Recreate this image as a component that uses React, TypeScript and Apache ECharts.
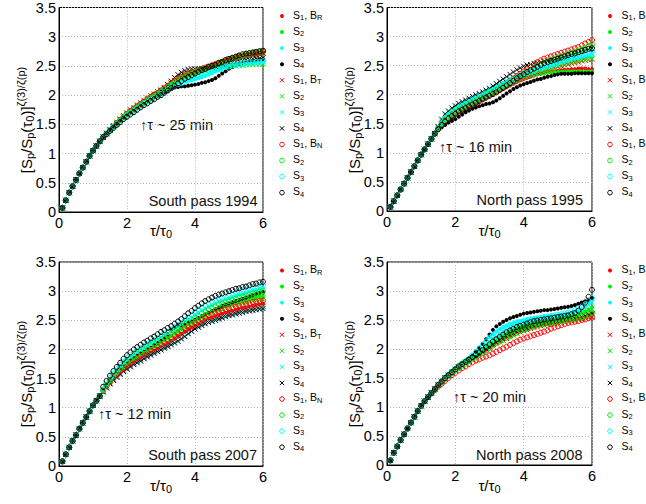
import React, { useEffect, useRef } from "react";
import * as echarts from "echarts";

const FONT = '"Liberation Sans", Arial, Helvetica, sans-serif';

// tau / tau0 sample points
const TAU = [
  0.1, 0.2, 0.3, 0.4, 0.5, 0.6, 0.7, 0.8, 0.9, 1.0, 1.1, 1.2,
  1.3, 1.4, 1.5, 1.6, 1.7, 1.8, 1.9, 2.0, 2.1, 2.2, 2.3, 2.4,
  2.5, 2.6, 2.7, 2.8, 2.9, 3.0, 3.1, 3.2, 3.3, 3.4, 3.5, 3.6,
  3.7, 3.8, 3.9, 4.0, 4.1, 4.2, 4.3, 4.4, 4.5, 4.6, 4.7, 4.8,
  4.9, 5.0, 5.1, 5.2, 5.3, 5.4, 5.5, 5.6, 5.7, 5.8, 5.9, 6.0,
];

const X_TICKS = [0, 2, 4, 6];
const Y_MAX = 3.5;
const Y_STEP = 0.5;

// ---------- South pass 1994 ----------
const SP94_HEAD = [0.07, 0.2, 0.33, 0.44, 0.55, 0.66, 0.76, 0.86, 0.96, 1.05, 1.13, 1.21];
const SP94_BR_S1 = [1.28,1.35,1.41,1.47,1.53,1.59,1.64,1.69,1.74,1.78,1.82,1.86, 1.90,1.94,1.98,2.02,2.05,2.08,2.12,2.17,2.21,2.25,2.29,2.32, 2.35,2.38,2.40,2.42,2.44,2.46,2.48,2.50,2.52,2.54,2.56,2.58, 2.60,2.62,2.63,2.65,2.66,2.67,2.68,2.69,2.70,2.71,2.72,2.73];
const SP94_BR_S2 = [1.28,1.34,1.40,1.46,1.52,1.58,1.63,1.68,1.73,1.77,1.81,1.85, 1.89,1.93,1.97,2.00,2.04,2.07,2.11,2.15,2.19,2.23,2.27,2.30, 2.33,2.36,2.38,2.40,2.42,2.44,2.46,2.48,2.50,2.52,2.54,2.56, 2.58,2.60,2.61,2.63,2.64,2.65,2.66,2.67,2.68,2.69,2.70,2.70];
const SP94_BR_S3 = [1.28,1.34,1.40,1.46,1.51,1.57,1.62,1.67,1.71,1.75,1.79,1.83, 1.87,1.91,1.94,1.98,2.01,2.04,2.08,2.11,2.15,2.18,2.21,2.23, 2.24,2.25,2.26,2.27,2.29,2.31,2.33,2.36,2.38,2.41,2.43,2.46, 2.48,2.50,2.51,2.52,2.53,2.54,2.55,2.55,2.56,2.57,2.57,2.58];
const SP94_BR_S4 = [1.28,1.34,1.40,1.46,1.51,1.56,1.61,1.66,1.70,1.74,1.78,1.82, 1.86,1.89,1.93,1.96,1.99,2.02,2.05,2.08,2.11,2.13,2.14,2.15, 2.15,2.16,2.17,2.18,2.19,2.21,2.22,2.24,2.26,2.29,2.33,2.37, 2.41,2.45,2.48,2.51,2.53,2.55,2.57,2.58,2.59,2.60,2.61,2.62];
const SP94_BT_S1 = [1.29,1.35,1.41,1.48,1.54,1.59,1.65,1.70,1.75,1.79,1.83,1.87, 1.91,1.95,1.99,2.02,2.06,2.09,2.13,2.17,2.21,2.25,2.29,2.32, 2.35,2.37,2.39,2.41,2.43,2.45,2.47,2.49,2.51,2.53,2.55,2.58, 2.60,2.62,2.63,2.64,2.65,2.66,2.67,2.68,2.69,2.70,2.71,2.72];
const SP94_BT_S2 = [1.28,1.35,1.41,1.47,1.53,1.58,1.63,1.68,1.73,1.77,1.81,1.85, 1.89,1.93,1.96,2.00,2.03,2.07,2.11,2.15,2.19,2.22,2.25,2.28, 2.31,2.33,2.35,2.37,2.39,2.41,2.42,2.44,2.45,2.46,2.47,2.48, 2.49,2.49,2.50,2.50,2.51,2.51,2.52,2.52,2.52,2.53,2.53,2.53];
const SP94_BT_S3 = [1.28,1.34,1.40,1.46,1.52,1.57,1.62,1.67,1.72,1.76,1.80,1.84, 1.88,1.92,1.95,1.99,2.02,2.06,2.10,2.14,2.18,2.21,2.24,2.26, 2.28,2.30,2.32,2.34,2.36,2.38,2.40,2.42,2.44,2.46,2.48,2.50, 2.51,2.52,2.53,2.53,2.54,2.54,2.55,2.55,2.55,2.56,2.56,2.56];
const SP94_BT_S4 = [1.28,1.34,1.40,1.46,1.51,1.57,1.62,1.67,1.71,1.75,1.79,1.83, 1.87,1.91,1.95,1.99,2.03,2.07,2.12,2.18,2.24,2.30,2.35,2.39, 2.42,2.44,2.45,2.45,2.45,2.45,2.46,2.47,2.48,2.49,2.50,2.52, 2.53,2.55,2.56,2.57,2.58,2.59,2.60,2.61,2.62,2.63,2.63,2.64];
const SP94_BN_S1 = [1.28,1.34,1.40,1.46,1.52,1.58,1.63,1.68,1.73,1.77,1.81,1.85, 1.89,1.93,1.97,2.01,2.04,2.08,2.12,2.16,2.20,2.24,2.28,2.31, 2.34,2.37,2.39,2.41,2.43,2.45,2.47,2.49,2.51,2.53,2.55,2.57, 2.59,2.61,2.63,2.64,2.66,2.67,2.68,2.69,2.71,2.72,2.73,2.74];
const SP94_BN_S2 = [1.28,1.34,1.40,1.46,1.51,1.57,1.62,1.67,1.71,1.75,1.79,1.83, 1.87,1.91,1.95,1.98,2.02,2.06,2.10,2.14,2.18,2.22,2.26,2.29, 2.32,2.35,2.37,2.40,2.42,2.44,2.46,2.48,2.50,2.53,2.55,2.57, 2.59,2.61,2.63,2.65,2.67,2.68,2.70,2.71,2.73,2.74,2.75,2.76];
const SP94_BN_S3 = [1.28,1.34,1.40,1.45,1.50,1.55,1.60,1.65,1.69,1.73,1.77,1.81, 1.85,1.88,1.92,1.95,1.98,2.02,2.05,2.09,2.12,2.16,2.19,2.21, 2.23,2.25,2.27,2.29,2.31,2.33,2.35,2.37,2.40,2.42,2.44,2.46, 2.48,2.49,2.51,2.52,2.53,2.54,2.55,2.56,2.56,2.57,2.57,2.58];
const SP94_BN_S4 = [1.28,1.33,1.39,1.44,1.49,1.54,1.59,1.63,1.67,1.71,1.75,1.79, 1.83,1.86,1.90,1.93,1.97,2.00,2.04,2.08,2.12,2.16,2.20,2.24, 2.28,2.31,2.34,2.37,2.40,2.43,2.45,2.48,2.50,2.52,2.55,2.57, 2.60,2.62,2.64,2.66,2.68,2.70,2.71,2.72,2.73,2.74,2.75,2.76];

// ---------- North pass 1995 ----------
const NP95_HEAD = [0.07, 0.17, 0.27, 0.37, 0.47, 0.57, 0.67, 0.77, 0.87, 0.97, 1.06, 1.15];
const NP95_BR_S1 = [1.24,1.33,1.41,1.48,1.54,1.59,1.63,1.67,1.71,1.74,1.77,1.80, 1.83,1.86,1.89,1.92,1.95,1.98,2.01,2.04,2.07,2.10,2.13,2.16, 2.19,2.22,2.25,2.27,2.29,2.31,2.33,2.35,2.36,2.37,2.38,2.39, 2.40,2.41,2.42,2.43,2.43,2.44,2.44,2.45,2.45,2.45,2.44,2.44];
const NP95_BR_S2 = [1.24,1.33,1.41,1.49,1.55,1.60,1.65,1.69,1.73,1.76,1.79,1.82, 1.85,1.88,1.91,1.94,1.97,2.00,2.03,2.06,2.09,2.12,2.15,2.18, 2.21,2.24,2.27,2.29,2.31,2.33,2.34,2.35,2.36,2.37,2.38,2.38, 2.39,2.39,2.39,2.40,2.40,2.40,2.40,2.40,2.40,2.40,2.40,2.40];
const NP95_BR_S3 = [1.24,1.33,1.43,1.53,1.62,1.68,1.73,1.77,1.81,1.84,1.87,1.90, 1.93,1.96,1.99,2.02,2.05,2.08,2.11,2.14,2.17,2.20,2.23,2.26, 2.29,2.31,2.34,2.36,2.38,2.40,2.42,2.44,2.46,2.48,2.50,2.51, 2.53,2.54,2.56,2.57,2.59,2.60,2.61,2.63,2.64,2.65,2.66,2.67];
const NP95_BR_S4 = [1.24,1.32,1.39,1.44,1.48,1.52,1.55,1.58,1.62,1.66,1.70,1.73, 1.76,1.78,1.80,1.82,1.84,1.85,1.87,1.90,1.94,1.98,2.02,2.06, 2.10,2.13,2.16,2.18,2.20,2.22,2.24,2.26,2.27,2.29,2.31,2.32, 2.34,2.35,2.36,2.36,2.36,2.36,2.37,2.37,2.37,2.37,2.37,2.37];
const NP95_BT_S1 = [1.24,1.33,1.42,1.50,1.57,1.62,1.66,1.70,1.74,1.77,1.80,1.83, 1.86,1.89,1.92,1.95,1.98,2.01,2.04,2.07,2.10,2.13,2.16,2.19, 2.22,2.25,2.27,2.30,2.32,2.34,2.36,2.38,2.40,2.42,2.43,2.45, 2.46,2.48,2.49,2.51,2.52,2.54,2.55,2.56,2.58,2.59,2.60,2.61];
const NP95_BT_S2 = [1.24,1.33,1.42,1.50,1.57,1.63,1.68,1.72,1.76,1.79,1.82,1.85, 1.88,1.91,1.94,1.97,2.00,2.03,2.06,2.09,2.12,2.15,2.18,2.21, 2.24,2.27,2.29,2.32,2.34,2.36,2.38,2.40,2.42,2.43,2.45,2.46, 2.48,2.49,2.51,2.52,2.54,2.55,2.57,2.58,2.59,2.60,2.61,2.62];
const NP95_BT_S3 = [1.24,1.33,1.44,1.55,1.64,1.70,1.74,1.78,1.82,1.85,1.88,1.91, 1.94,1.97,2.00,2.03,2.06,2.09,2.12,2.15,2.18,2.21,2.24,2.27, 2.30,2.33,2.36,2.38,2.40,2.42,2.44,2.46,2.48,2.50,2.52,2.54, 2.56,2.57,2.59,2.60,2.62,2.63,2.65,2.66,2.68,2.69,2.70,2.71];
const NP95_BT_S4 = [1.24,1.33,1.45,1.58,1.67,1.72,1.77,1.81,1.85,1.88,1.91,1.94, 1.97,2.00,2.02,2.05,2.08,2.11,2.15,2.19,2.23,2.27,2.31,2.35, 2.39,2.43,2.46,2.49,2.51,2.52,2.54,2.55,2.56,2.57,2.58,2.59, 2.60,2.62,2.63,2.65,2.66,2.68,2.70,2.72,2.74,2.76,2.78,2.80];
const NP95_BN_S1 = [1.24,1.33,1.41,1.49,1.55,1.60,1.64,1.68,1.72,1.75,1.79,1.82, 1.85,1.88,1.91,1.94,1.97,2.00,2.04,2.08,2.12,2.16,2.20,2.24, 2.28,2.32,2.36,2.40,2.44,2.48,2.52,2.56,2.59,2.62,2.64,2.66, 2.68,2.70,2.72,2.74,2.76,2.78,2.80,2.82,2.85,2.88,2.91,2.94];
const NP95_BN_S2 = [1.24,1.33,1.42,1.50,1.57,1.62,1.67,1.71,1.75,1.78,1.81,1.84, 1.87,1.90,1.93,1.96,1.99,2.02,2.05,2.08,2.12,2.15,2.19,2.22, 2.26,2.29,2.33,2.36,2.40,2.43,2.46,2.49,2.52,2.55,2.58,2.60, 2.62,2.64,2.66,2.68,2.70,2.72,2.74,2.76,2.78,2.81,2.84,2.87];
const NP95_BN_S3 = [1.24,1.33,1.42,1.51,1.59,1.65,1.70,1.74,1.78,1.81,1.84,1.87, 1.90,1.93,1.96,1.99,2.02,2.05,2.08,2.11,2.14,2.17,2.20,2.23, 2.26,2.29,2.32,2.34,2.37,2.39,2.41,2.43,2.45,2.47,2.49,2.51, 2.53,2.55,2.57,2.59,2.61,2.63,2.65,2.67,2.69,2.71,2.72,2.74];
const NP95_BN_S4 = [1.24,1.33,1.41,1.48,1.54,1.59,1.63,1.67,1.71,1.74,1.77,1.80, 1.83,1.86,1.89,1.92,1.95,1.98,2.01,2.04,2.08,2.12,2.16,2.20, 2.24,2.28,2.32,2.35,2.39,2.42,2.45,2.48,2.51,2.54,2.56,2.58, 2.60,2.62,2.64,2.66,2.68,2.70,2.71,2.73,2.75,2.77,2.79,2.80];

// ---------- South pass 2007 ----------
const SP07_HEAD = [0.08, 0.2, 0.32, 0.43, 0.53, 0.64, 0.74, 0.84, 0.94, 1.04, 1.12, 1.2];
const SP07_BR_S1 = [1.28,1.36,1.43,1.49,1.55,1.61,1.66,1.70,1.74,1.78,1.82,1.85, 1.89,1.92,1.95,1.98,2.01,2.04,2.08,2.11,2.15,2.19,2.23,2.27, 2.31,2.35,2.38,2.41,2.44,2.47,2.50,2.53,2.55,2.57,2.59,2.61, 2.63,2.65,2.66,2.68,2.69,2.71,2.72,2.73,2.75,2.76,2.77,2.78];
const SP07_BR_S2 = [1.29,1.38,1.46,1.53,1.59,1.65,1.70,1.75,1.80,1.84,1.88,1.92, 1.95,1.99,2.02,2.06,2.09,2.13,2.16,2.20,2.24,2.28,2.32,2.36, 2.40,2.44,2.47,2.51,2.54,2.57,2.60,2.63,2.66,2.68,2.71,2.73, 2.75,2.77,2.79,2.81,2.82,2.84,2.85,2.87,2.88,2.89,2.91,2.92];
const SP07_BR_S3 = [1.30,1.40,1.49,1.57,1.64,1.71,1.77,1.82,1.87,1.91,1.95,1.99, 2.03,2.06,2.10,2.13,2.17,2.20,2.24,2.27,2.31,2.35,2.39,2.43, 2.47,2.51,2.55,2.59,2.63,2.67,2.70,2.73,2.76,2.79,2.82,2.84, 2.86,2.88,2.90,2.92,2.94,2.95,2.97,2.99,3.01,3.02,3.04,3.05];
const SP07_BR_S4 = [1.29,1.38,1.46,1.53,1.60,1.66,1.71,1.76,1.81,1.85,1.89,1.93, 1.96,2.00,2.03,2.07,2.11,2.15,2.20,2.26,2.32,2.37,2.40,2.42, 2.44,2.46,2.48,2.51,2.54,2.57,2.60,2.63,2.66,2.69,2.72,2.75, 2.77,2.79,2.81,2.83,2.85,2.87,2.89,2.91,2.93,2.95,2.97,2.98];
const SP07_BT_S1 = [1.28,1.35,1.42,1.48,1.54,1.59,1.64,1.68,1.72,1.76,1.80,1.83, 1.86,1.90,1.93,1.96,1.99,2.02,2.05,2.08,2.12,2.16,2.20,2.24, 2.28,2.32,2.36,2.39,2.42,2.45,2.48,2.50,2.52,2.54,2.56,2.58, 2.60,2.61,2.63,2.64,2.66,2.67,2.68,2.70,2.71,2.72,2.73,2.74];
const SP07_BT_S2 = [1.29,1.37,1.45,1.52,1.58,1.64,1.69,1.74,1.78,1.82,1.86,1.90, 1.93,1.97,2.00,2.03,2.07,2.10,2.14,2.17,2.21,2.25,2.29,2.33, 2.37,2.41,2.44,2.47,2.50,2.53,2.56,2.59,2.62,2.64,2.66,2.68, 2.70,2.72,2.74,2.76,2.77,2.79,2.80,2.82,2.83,2.84,2.85,2.86];
const SP07_BT_S3 = [1.27,1.34,1.41,1.47,1.53,1.58,1.63,1.67,1.71,1.75,1.78,1.81, 1.85,1.88,1.91,1.94,1.97,2.00,2.03,2.06,2.09,2.12,2.15,2.19, 2.23,2.27,2.31,2.35,2.39,2.42,2.45,2.47,2.49,2.51,2.53,2.55, 2.57,2.59,2.60,2.62,2.63,2.65,2.66,2.67,2.68,2.69,2.71,2.72];
const SP07_BT_S4 = [1.27,1.34,1.41,1.47,1.52,1.57,1.62,1.66,1.70,1.74,1.77,1.80, 1.84,1.87,1.90,1.93,1.96,1.99,2.02,2.05,2.08,2.11,2.14,2.18, 2.22,2.27,2.31,2.35,2.38,2.41,2.44,2.46,2.48,2.50,2.52,2.54, 2.56,2.58,2.59,2.61,2.62,2.63,2.65,2.66,2.67,2.68,2.69,2.70];
const SP07_BN_S1 = [1.29,1.37,1.44,1.51,1.57,1.63,1.68,1.72,1.77,1.81,1.85,1.88, 1.92,1.95,1.99,2.02,2.05,2.09,2.12,2.16,2.20,2.24,2.28,2.32, 2.36,2.40,2.43,2.46,2.49,2.52,2.55,2.58,2.60,2.62,2.64,2.66, 2.68,2.70,2.72,2.73,2.75,2.76,2.78,2.79,2.81,2.82,2.83,2.84];
const SP07_BN_S2 = [1.30,1.39,1.47,1.55,1.62,1.68,1.74,1.79,1.84,1.88,1.92,1.96, 2.00,2.03,2.07,2.10,2.14,2.17,2.21,2.24,2.28,2.32,2.36,2.40, 2.44,2.48,2.51,2.55,2.58,2.62,2.65,2.68,2.71,2.74,2.77,2.79, 2.81,2.83,2.85,2.87,2.89,2.91,2.93,2.94,2.96,2.97,2.99,3.00];
const SP07_BN_S3 = [1.32,1.42,1.51,1.59,1.66,1.73,1.79,1.85,1.90,1.94,1.98,2.02, 2.06,2.09,2.13,2.16,2.20,2.23,2.27,2.30,2.34,2.38,2.42,2.46, 2.50,2.55,2.59,2.64,2.68,2.72,2.76,2.79,2.82,2.85,2.87,2.89, 2.91,2.93,2.95,2.97,2.99,3.01,3.02,3.04,3.06,3.07,3.09,3.10];
const SP07_BN_S4 = [1.36,1.46,1.55,1.63,1.70,1.77,1.84,1.90,1.95,2.00,2.04,2.08, 2.12,2.15,2.19,2.22,2.26,2.30,2.33,2.37,2.40,2.44,2.48,2.52, 2.57,2.62,2.66,2.71,2.75,2.79,2.83,2.86,2.89,2.92,2.94,2.96, 2.98,3.00,3.02,3.04,3.05,3.07,3.08,3.10,3.12,3.13,3.15,3.16];

// ---------- North pass 2008 ----------
const NP08_HEAD = [0.08, 0.21, 0.32, 0.43, 0.53, 0.63, 0.73, 0.83, 0.93, 1.02, 1.1, 1.17];
const NP08_BR_S1 = [1.24,1.31,1.37,1.43,1.49,1.54,1.59,1.64,1.68,1.72,1.76,1.80, 1.84,1.88,1.92,1.96,2.00,2.04,2.08,2.12,2.16,2.20,2.23,2.26, 2.29,2.31,2.33,2.35,2.37,2.39,2.40,2.41,2.42,2.43,2.44,2.45, 2.46,2.47,2.48,2.49,2.50,2.51,2.52,2.53,2.54,2.56,2.58,2.60];
const NP08_BR_S2 = [1.24,1.31,1.38,1.44,1.50,1.55,1.60,1.65,1.69,1.73,1.77,1.81, 1.85,1.89,1.93,1.98,2.03,2.08,2.13,2.17,2.21,2.25,2.28,2.31, 2.34,2.36,2.38,2.40,2.42,2.43,2.45,2.46,2.47,2.48,2.49,2.50, 2.51,2.52,2.53,2.54,2.55,2.56,2.58,2.60,2.62,2.65,2.68,2.72];
const NP08_BR_S3 = [1.24,1.31,1.38,1.45,1.51,1.56,1.61,1.66,1.71,1.75,1.79,1.83, 1.90,1.96,2.02,2.08,2.14,2.20,2.25,2.30,2.34,2.37,2.40,2.43, 2.45,2.47,2.48,2.49,2.51,2.52,2.53,2.54,2.55,2.56,2.57,2.57, 2.57,2.58,2.59,2.60,2.61,2.62,2.64,2.66,2.69,2.73,2.78,2.84];
const NP08_BR_S4 = [1.24,1.31,1.38,1.45,1.51,1.56,1.61,1.66,1.70,1.74,1.78,1.83, 1.88,1.95,2.02,2.09,2.17,2.25,2.33,2.39,2.43,2.47,2.50,2.53, 2.55,2.57,2.59,2.61,2.62,2.63,2.64,2.65,2.66,2.67,2.67,2.68, 2.69,2.70,2.71,2.72,2.73,2.74,2.76,2.78,2.80,2.82,2.85,2.88];
const NP08_BT_S1 = [1.25,1.32,1.38,1.44,1.49,1.54,1.59,1.63,1.67,1.71,1.75,1.79, 1.83,1.86,1.90,1.94,1.97,2.01,2.05,2.09,2.12,2.15,2.18,2.21, 2.24,2.27,2.29,2.31,2.33,2.35,2.37,2.38,2.40,2.41,2.42,2.43, 2.44,2.45,2.46,2.47,2.48,2.49,2.50,2.51,2.52,2.53,2.54,2.55];
const NP08_BT_S2 = [1.24,1.31,1.37,1.43,1.49,1.54,1.59,1.64,1.68,1.72,1.76,1.80, 1.84,1.88,1.92,1.96,2.00,2.04,2.08,2.12,2.16,2.19,2.22,2.25, 2.28,2.31,2.33,2.35,2.37,2.39,2.41,2.43,2.44,2.45,2.46,2.48, 2.49,2.50,2.52,2.53,2.54,2.56,2.57,2.59,2.61,2.63,2.66,2.69];
const NP08_BT_S3 = [1.24,1.31,1.38,1.44,1.50,1.55,1.60,1.65,1.70,1.74,1.78,1.82, 1.86,1.90,1.94,1.99,2.04,2.09,2.14,2.18,2.22,2.26,2.30,2.34, 2.37,2.40,2.42,2.44,2.46,2.48,2.49,2.50,2.51,2.52,2.53,2.54, 2.55,2.56,2.57,2.58,2.60,2.62,2.64,2.66,2.69,2.72,2.76,2.80];
const NP08_BT_S4 = [1.24,1.31,1.38,1.44,1.50,1.55,1.60,1.65,1.69,1.73,1.77,1.81, 1.85,1.88,1.92,1.96,2.00,2.04,2.08,2.12,2.15,2.18,2.21,2.24, 2.27,2.30,2.32,2.34,2.36,2.38,2.40,2.42,2.43,2.44,2.45,2.46, 2.47,2.48,2.49,2.50,2.51,2.52,2.53,2.54,2.55,2.57,2.59,2.61];
const NP08_BN_S1 = [1.23,1.29,1.35,1.40,1.45,1.50,1.55,1.59,1.63,1.67,1.70,1.74, 1.77,1.80,1.82,1.85,1.87,1.89,1.92,1.95,1.98,2.01,2.04,2.07, 2.10,2.13,2.16,2.18,2.20,2.22,2.24,2.26,2.28,2.30,2.32,2.35, 2.37,2.39,2.41,2.43,2.45,2.46,2.47,2.48,2.50,2.51,2.53,2.54];
const NP08_BN_S2 = [1.24,1.31,1.37,1.43,1.48,1.53,1.58,1.63,1.67,1.71,1.75,1.79, 1.83,1.87,1.90,1.94,1.98,2.02,2.06,2.10,2.13,2.16,2.19,2.22, 2.25,2.28,2.31,2.33,2.35,2.37,2.39,2.41,2.42,2.43,2.44,2.45, 2.46,2.47,2.48,2.49,2.50,2.51,2.52,2.54,2.55,2.57,2.59,2.62];
const NP08_BN_S3 = [1.24,1.31,1.38,1.45,1.51,1.56,1.61,1.66,1.70,1.75,1.79,1.83, 1.89,1.95,2.01,2.07,2.13,2.19,2.24,2.28,2.32,2.36,2.39,2.42, 2.44,2.46,2.47,2.49,2.50,2.51,2.52,2.53,2.54,2.55,2.56,2.57, 2.58,2.59,2.60,2.61,2.63,2.65,2.67,2.70,2.73,2.77,2.82,2.88];
const NP08_BN_S4 = [1.24,1.31,1.38,1.44,1.50,1.55,1.60,1.65,1.70,1.74,1.78,1.82, 1.86,1.90,1.94,1.98,2.03,2.08,2.13,2.17,2.21,2.25,2.29,2.32, 2.35,2.38,2.40,2.42,2.44,2.46,2.48,2.49,2.50,2.51,2.52,2.53, 2.54,2.55,2.56,2.57,2.58,2.60,2.62,2.66,2.72,2.80,2.90,3.02];

const PANEL_TITLES = ["South pass 1994", "North pass 1995", "South pass 2007", "North pass 2008"];
const PANEL_NOTES = ["↑τ ~ 25 min", "↑τ ~ 16 min", "↑τ ~ 12 min", "↑τ ~ 20 min"];
const PANEL_HEADS = [SP94_HEAD, NP95_HEAD, SP07_HEAD, NP08_HEAD];
const PANEL_TAILS = [
  [SP94_BR_S1, SP94_BR_S2, SP94_BR_S3, SP94_BR_S4, SP94_BT_S1, SP94_BT_S2, SP94_BT_S3, SP94_BT_S4, SP94_BN_S1, SP94_BN_S2, SP94_BN_S3, SP94_BN_S4],
  [NP95_BR_S1, NP95_BR_S2, NP95_BR_S3, NP95_BR_S4, NP95_BT_S1, NP95_BT_S2, NP95_BT_S3, NP95_BT_S4, NP95_BN_S1, NP95_BN_S2, NP95_BN_S3, NP95_BN_S4],
  [SP07_BR_S1, SP07_BR_S2, SP07_BR_S3, SP07_BR_S4, SP07_BT_S1, SP07_BT_S2, SP07_BT_S3, SP07_BT_S4, SP07_BN_S1, SP07_BN_S2, SP07_BN_S3, SP07_BN_S4],
  [NP08_BR_S1, NP08_BR_S2, NP08_BR_S3, NP08_BR_S4, NP08_BT_S1, NP08_BT_S2, NP08_BT_S3, NP08_BT_S4, NP08_BN_S1, NP08_BN_S2, NP08_BN_S3, NP08_BN_S4],
];

// legend entries: [S index, B component]
const LEGEND_ITEMS: [string, string][] = [
  ["1", "R"], ["2", ""], ["3", ""], ["4", ""],
  ["1", "T"], ["2", ""], ["3", ""], ["4", ""],
  ["1", "N"], ["2", ""], ["3", ""], ["4", ""],
];

// ---- styles and layout ----
const COLORS = ["#ff0000", "#00ee00", "#00ffff", "#000000"];
const MARKERS = ["dot", "x", "o"];

const GRIDS = [
  { left: 59, top: 7, width: 204, height: 205 },
  { left: 387, top: 7, width: 205, height: 204 },
  { left: 59, top: 262, width: 204, height: 204 },
  { left: 387, top: 262, width: 205, height: 203 },
];
const LEG_MARK_X = [282, 610, 282, 610];
const LEG_TEXT_X = [293, 621.5, 293, 621.5];
const LEG_TOP = [16, 16, 270.5, 270.5];
const LEG_STEP = 16.06;
const YLAB_POS = [[26, 120], [354, 120], [26, 374], [354, 374]];
const XLAB_POS = [[161, 230], [489.5, 230], [161, 485], [489.5, 485]];
const NOTE_POS = [[140, 125], [439, 147], [98, 414], [453, 397]];
const TITLE_POS = [[257.5, 201], [583, 200], [257, 455], [582.5, 455]];

function markerSymbol(m: string, c: string) {
  if (m === "dot") return { symbol: "circle", symbolSize: 4, itemStyle: { color: c, opacity: 1 } };
  if (m === "x")
    return {
      symbol: "path://M0,0L10,10M10,0L0,10",
      symbolSize: 5,
      itemStyle: { color: c, borderColor: c, borderWidth: 1, opacity: 1 },
    };
  return {
    symbol: "circle",
    symbolSize: 5,
    itemStyle: { color: "rgba(0,0,0,0)", borderColor: c, borderWidth: 1, opacity: 1 },
  };
}

function legendMarker(m: string, c: string, x: number, y: number): any[] {
  if (m === "dot") return [{ type: "circle", shape: { cx: x, cy: y, r: 2 }, style: { fill: c } }];
  if (m === "x")
    return [
      { type: "line", shape: { x1: x - 2.2, y1: y - 2.2, x2: x + 2.2, y2: y + 2.2 }, style: { stroke: c, lineWidth: 1 } },
      { type: "line", shape: { x1: x - 2.2, y1: y + 2.2, x2: x + 2.2, y2: y - 2.2 }, style: { stroke: c, lineWidth: 1 } },
    ];
  return [{ type: "circle", shape: { cx: x, cy: y, r: 2.3 }, style: { fill: "none", stroke: c, lineWidth: 1 } }];
}

function buildOption() {
  const series: any[] = [];
  const graphic: any[] = [];
  const xAxis: any[] = [];
  const yAxis: any[] = [];
  const grid: any[] = [];

  GRIDS.forEach((g, p) => {
    grid.push({ ...g, show: true, borderColor: "#000", borderWidth: 1, backgroundColor: "transparent", containLabel: false });
    xAxis.push({
      type: "value",
      gridIndex: p,
      min: X_TICKS[0],
      max: X_TICKS[X_TICKS.length - 1],
      interval: X_TICKS[1] - X_TICKS[0],
      axisLine: { show: true, lineStyle: { color: "#000", width: 1 } },
      axisTick: { show: false },
      axisLabel: { color: "#000", fontSize: 14.5, fontFamily: FONT, margin: 3 },
      splitLine: { show: true, lineStyle: { color: "#b4b4b4", type: [1, 2], width: 1 } },
    });
    yAxis.push({
      type: "value",
      gridIndex: p,
      min: 0,
      max: Y_MAX,
      interval: Y_STEP,
      axisLine: { show: true, lineStyle: { color: "#000", width: 1 } },
      axisTick: { show: false },
      axisLabel: { color: "#000", fontSize: 14.5, fontFamily: FONT, margin: 3 },
      splitLine: { show: true, lineStyle: { color: "#b4b4b4", type: [1, 2], width: 1 } },
    });

    const head = PANEL_HEADS[p];
    PANEL_TAILS[p].forEach((tail, s) => {
      const vals = head.concat(tail);
      const c = COLORS[s % 4];
      const m = MARKERS[Math.floor(s / 4)];
      series.push({
        type: "scatter",
        xAxisIndex: p,
        yAxisIndex: p,
        silent: true,
        emphasis: { disabled: true },
        data: TAU.map((t, i) => [t, vals[i]]),
        ...markerSymbol(m, c),
      });
      // legend entry
      const ly = LEG_TOP[p] + s * LEG_STEP;
      legendMarker(m, c, LEG_MARK_X[p], ly).forEach((el) => graphic.push(el));
      const [si, b] = LEGEND_ITEMS[s];
      const txt = b ? `{m|S}{s|${si}}{m|, B}{s|${b}}` : `{m|S}{s|${si}}`;
      graphic.push({
        type: "text",
        x: LEG_TEXT_X[p],
        y: ly - 1.5,
        style: {
          text: txt,
          fill: "#000",
          align: "left",
          verticalAlign: "middle",
          fontFamily: FONT,
          fontSize: 10,
          rich: {
            m: { fontSize: 10.5, fontFamily: FONT, fill: "#000", verticalAlign: "middle" },
            s: { fontSize: 7.5, fontFamily: FONT, fill: "#000", verticalAlign: "middle", padding: [6, 0, 0, 0] },
          },
        },
      });
    });

    // y-axis label
    graphic.push({
      type: "text",
      x: YLAB_POS[p][0],
      y: YLAB_POS[p][1],
      rotation: Math.PI / 2,
      style: {
        text: "{m|[S}{s|p}{m|/S}{s|p}{m|(τ}{s|0}{m|)]}{u|ζ(3)/ζ(p)}",
        fill: "#000",
        align: "center",
        verticalAlign: "middle",
        fontFamily: FONT,
        fontSize: 15,
        rich: {
          m: { fontSize: 15, fontFamily: FONT, fill: "#000", verticalAlign: "middle" },
          s: { fontSize: 11, fontFamily: FONT, fill: "#000", verticalAlign: "middle", padding: [8, 0, 0, 0] },
          u: { fontSize: 11, fontFamily: FONT, fill: "#000", verticalAlign: "middle", padding: [0, 0, 10, 0] },
        },
      },
    });
    // x-axis label
    graphic.push({
      type: "text",
      x: XLAB_POS[p][0],
      y: XLAB_POS[p][1],
      style: {
        text: "{m|τ/τ}{s|0}",
        fill: "#000",
        align: "center",
        verticalAlign: "middle",
        fontFamily: FONT,
        fontSize: 15,
        rich: {
          m: { fontSize: 15, fontFamily: FONT, fill: "#000", verticalAlign: "middle" },
          s: { fontSize: 11, fontFamily: FONT, fill: "#000", verticalAlign: "middle", padding: [8, 0, 0, 0] },
        },
      },
    });
    // annotation
    graphic.push({
      type: "text",
      x: NOTE_POS[p][0],
      y: NOTE_POS[p][1],
      style: { text: PANEL_NOTES[p], fill: "#111", align: "left", verticalAlign: "middle", fontFamily: FONT, fontSize: 14.5 },
    });
    // panel title
    graphic.push({
      type: "text",
      x: TITLE_POS[p][0],
      y: TITLE_POS[p][1],
      style: { text: PANEL_TITLES[p], fill: "#111", align: "right", verticalAlign: "middle", fontFamily: FONT, fontSize: 14.5 },
    });
  });

  return {
    animation: false,
    backgroundColor: "#fff",
    textStyle: { fontFamily: FONT },
    grid,
    xAxis,
    yAxis,
    series,
    graphic: { elements: graphic },
  };
}

export default function App() {
  const ref = useRef<HTMLDivElement>(null);
  useEffect(() => {
    if (!ref.current) return;
    const chart = echarts.init(ref.current, undefined, { renderer: "svg" });
    chart.setOption(buildOption() as any);
    return () => chart.dispose();
  }, []);
  return (
    <div
      ref={ref}
      style={{ position: "absolute", left: 0, top: 0, width: 646, height: 504, background: "#fff" }}
    />
  );
}
